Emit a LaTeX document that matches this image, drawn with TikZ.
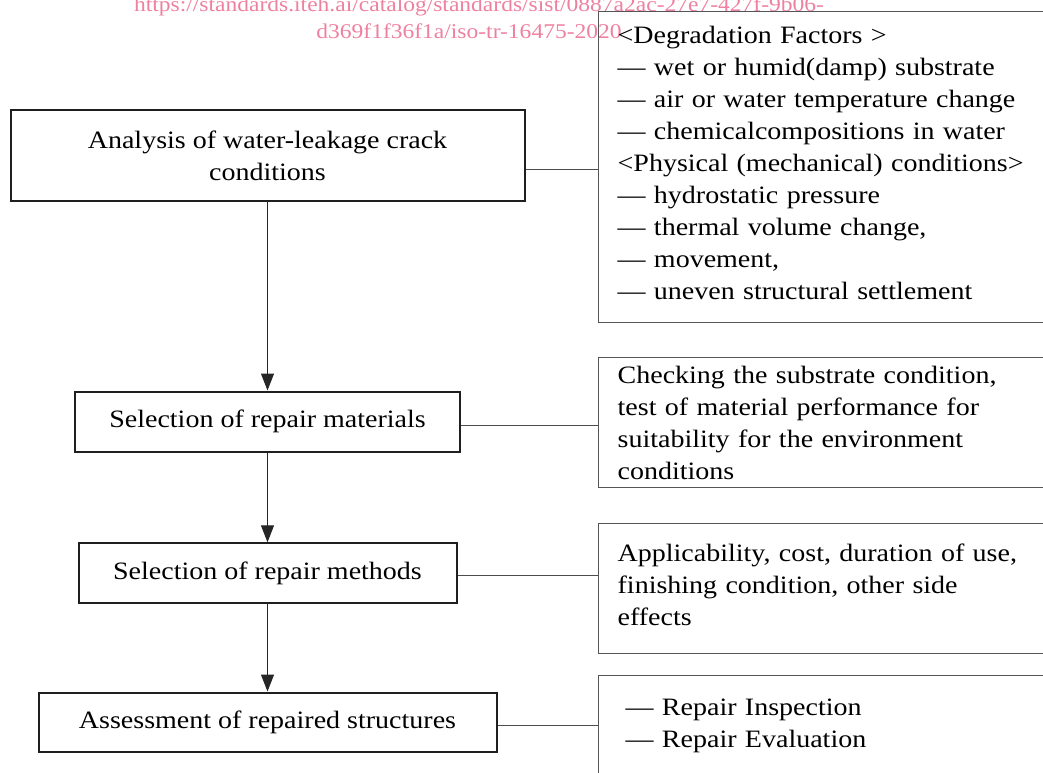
\documentclass[tikz,border=0pt]{standalone}
\usepackage{fontspec}
\setmainfont[FakeStretch=1.12]{Liberation Serif}
\newfontfamily\wmfont[FakeStretch=1.12]{Liberation Serif}
\usetikzlibrary{arrows.meta}
\definecolor{wmpink}{RGB}{238,128,160}
\definecolor{rgray}{RGB}{85,85,85}
\begin{document}
\begin{tikzpicture}[x=1pt,y=-1pt,
  lbox/.style={draw=black!88, line width=2pt, align=center, font=\fontsize{25}{32}\selectfont, inner sep=0pt},
  rbox/.style={draw=rgray, line width=1.3pt, anchor=north west, align=left, font=\fontsize{25}{32}\selectfont, inner xsep=19pt, inner ysep=0pt, text width=424pt},
  conn/.style={draw=black!70, line width=1pt},
  flow/.style={draw=black!85, line width=1pt, -{Triangle[length=17pt,width=13pt]}},
  wm/.style={text=wmpink, font=\wmfont\fontsize{21}{27}\selectfont, inner sep=0pt}
]
\useasboundingbox (0,0) rectangle (1043,772);
\clip (0,0) rectangle (1043,772);
\node[wm, anchor=base] (wm1) at (479,11) {https://standards.iteh.ai/catalog/standards/sist/0887a2ac-27e7-427f-9b06-};
\node[wm, anchor=base] (wm2) at (469,38) {d369f1f36f1a/iso-tr-16475-2020};

\node[lbox, minimum width=514pt, minimum height=91pt] (a) at (267.5,155.5) {Analysis of water-leakage crack\\conditions};
\node[lbox, minimum width=385pt, minimum height=60pt] (b) at (267.5,421.5) {Selection of repair materials};
\node[lbox, minimum width=378pt, minimum height=60pt] (c) at (267.5,573.3) {Selection of repair methods};
\node[lbox, minimum width=458pt, minimum height=59pt] (d) at (267.5,722) {Assessment of repaired structures};

\node[rbox, minimum height=311pt] (ra) at (598,11) {<Degradation Factors >\\
— wet or humid(damp) substrate\\
— air or water temperature change\\
— chemicalcompositions in water\\
<Physical (mechanical) conditions>\\
— hydrostatic pressure\\
— thermal volume change,\\
— movement,\\
— uneven structural settlement\rule[-8pt]{0pt}{8pt}};
\node[rbox, minimum height=130pt] (rb) at (598,357) {Checking the substrate condition,\\
test of material performance for\\
suitability for the environment\\
conditions};
\node[rbox, minimum height=130pt] (rc) at (598,523) {Applicability, cost, duration of use,\\
finishing condition, other side\\
effects\rule[-8pt]{0pt}{8pt}};
\node[rbox, minimum height=100pt, inner xsep=27pt, text width=408pt] (rd) at (598,675) {— Repair Inspection\\
— Repair Evaluation};

\draw[conn] ([yshift=-13.5pt]a.east) -- ([yshift=-13.5pt]a.east -| ra.west);
\draw[conn] ([yshift=-3.5pt]b.east) -- ([yshift=-3.5pt]b.east -| rb.west);
\draw[conn] ([yshift=-1.7pt]c.east) -- ([yshift=-1.7pt]c.east -| rc.west);
\draw[conn] ([yshift=-3pt]d.east) -- ([yshift=-3pt]d.east -| rd.west);

\draw[flow] (a.south) -- (b.north);
\draw[flow] (b.south) -- (c.north);
\draw[flow] (c.south) -- (d.north);
\end{tikzpicture}
\end{document}
